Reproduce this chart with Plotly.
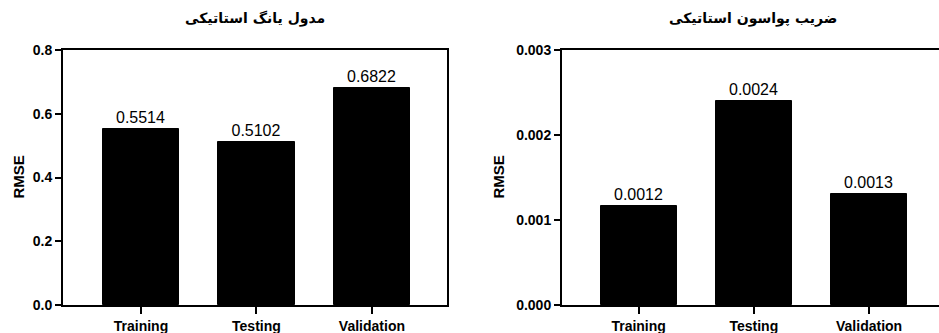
import plotly.graph_objects as go

categories = ["Training", "Testing", "Validation"]
young_rmse = [0.5514, 0.5102, 0.6822]
poisson_rmse = [0.00117, 0.0024, 0.00131]
title_left = "مدول یانگ استاتیکی"
title_right = "ضریب پواسون استاتیکی"
y_title = "RMSE"
left_ticks = [0.0, 0.2, 0.4, 0.6, 0.8]
left_ticktext = ["0.0", "0.2", "0.4", "0.6", "0.8"]
right_ticks = [0.0, 0.001, 0.002, 0.003]
right_ticktext = ["0.000", "0.001", "0.002", "0.003"]

W, H = 939, 333
tickfont = dict(family="Liberation Sans, Arial", size=14, weight="bold", color="black")
labelfont = dict(family="Liberation Sans, Arial", size=16, color="black")

fig = go.Figure()
fig.add_trace(go.Bar(x=categories, y=young_rmse, xaxis="x", yaxis="y", width=0.66,
                     marker=dict(color="black", line=dict(color="black", width=1)),
                     text=young_rmse, texttemplate="%{y:.4f}", textposition="outside",
                     textfont=labelfont, cliponaxis=False, showlegend=False))
fig.add_trace(go.Bar(x=categories, y=poisson_rmse, xaxis="x2", yaxis="y2", width=0.66,
                     marker=dict(color="black", line=dict(color="black", width=1)),
                     text=poisson_rmse, texttemplate="%{y:.4f}", textposition="outside",
                     textfont=labelfont, cliponaxis=False, showlegend=False))

ydom = [(H - 305) / H, (H - 50) / H]
common_x = dict(showline=True, linecolor="black", linewidth=2, mirror=True,
                ticks="outside", ticklen=7, tickwidth=2, tickcolor="black",
                tickfont=tickfont, showgrid=False, zeroline=False, automargin=False)
common_y = dict(showline=True, linecolor="black", linewidth=2,
                ticks="outside", ticklen=6, tickwidth=2, tickcolor="black",
                tickfont=tickfont, showgrid=False, zeroline=False, automargin=False)

fig.update_layout(
    width=W, height=H,
    margin=dict(l=0, r=0, t=0, b=0, autoexpand=False),
    plot_bgcolor="white", paper_bgcolor="white",
    bargap=0,
    xaxis=dict(domain=[63 / W, 447 / W], range=[-0.675, 2.65], anchor="y", **common_x),
    yaxis=dict(domain=ydom, range=[0, 0.8], tickvals=left_ticks, ticktext=left_ticktext,
               mirror=True, anchor="x", **common_y),
    xaxis2=dict(domain=[562 / W, 1.0], range=[-0.665, 2.607], anchor="y2", **common_x),
    yaxis2=dict(domain=ydom, range=[0, 0.003], tickvals=right_ticks, ticktext=right_ticktext,
                mirror=False, anchor="x2", **common_y),
    annotations=[
        dict(text=title_left, x=255 / W, y=(H - 18) / H, xref="paper", yref="paper",
             showarrow=False, xanchor="center", yanchor="middle",
             font=dict(family="DejaVu Sans", size=14, weight="bold", color="black")),
        dict(text=title_right, x=753 / W, y=(H - 18) / H, xref="paper", yref="paper",
             showarrow=False, xanchor="center", yanchor="middle",
             font=dict(family="DejaVu Sans", size=14, weight="bold", color="black")),
        dict(text=y_title, x=18 / W, y=(H - 177.5) / H, xref="paper", yref="paper",
             showarrow=False, xanchor="center", yanchor="middle", textangle=-90,
             font=dict(family="Liberation Sans, Arial", size=15, weight="bold", color="black")),
        dict(text=y_title, x=498 / W, y=(H - 177.5) / H, xref="paper", yref="paper",
             showarrow=False, xanchor="center", yanchor="middle", textangle=-90,
             font=dict(family="Liberation Sans, Arial", size=15, weight="bold", color="black")),
    ],
)

fig.write_html("out.html", config={"displayModeBar": False},
               post_script="document.body.style.margin='0';document.body.style.overflow='hidden';")
